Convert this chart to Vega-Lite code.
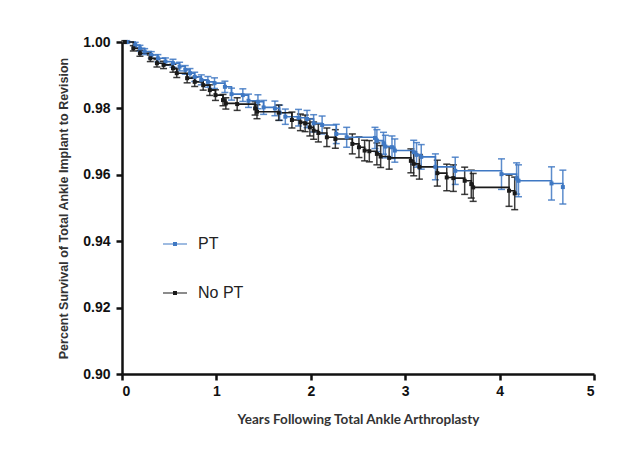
{
  "$schema": "https://vega.github.io/schema/vega-lite/v6.json",
  "autosize": {"type": "none"},
  "padding": {"left": 122, "top": 42, "right": 40, "bottom": 76},
  "width": 472,
  "height": 332,
  "background": "white",
  "config": {
    "view": {"stroke": null},
    "axis": {
      "grid": false,
      "domainColor": "#111",
      "domainWidth": 2.5,
      "tickColor": "#111",
      "tickWidth": 2.5,
      "tickSize": 6,
      "labelFont": "Liberation Sans",
      "labelFontWeight": "bold",
      "labelFontSize": 14,
      "labelColor": "#111",
      "titleFont": "Lato",
      "titleFontWeight": "bold",
      "titleFontSize": 13.5,
      "titleColor": "#333"
    }
  },
  "data": {
    "values": [
      {"g": "PT", "t": 0.05, "s": 1.0, "ci": 0.0004},
      {"g": "PT", "t": 0.14, "s": 0.9991, "ci": 0.0008},
      {"g": "PT", "t": 0.19, "s": 0.9981, "ci": 0.0009},
      {"g": "PT", "t": 0.24, "s": 0.9971, "ci": 0.0009},
      {"g": "PT", "t": 0.31, "s": 0.9961, "ci": 0.001},
      {"g": "PT", "t": 0.38, "s": 0.9951, "ci": 0.0011},
      {"g": "PT", "t": 0.46, "s": 0.9941, "ci": 0.0011},
      {"g": "PT", "t": 0.54, "s": 0.9936, "ci": 0.0012},
      {"g": "PT", "t": 0.61, "s": 0.9926, "ci": 0.0013},
      {"g": "PT", "t": 0.67, "s": 0.9916, "ci": 0.0013},
      {"g": "PT", "t": 0.72, "s": 0.9906, "ci": 0.0014},
      {"g": "PT", "t": 0.77, "s": 0.9895, "ci": 0.0014},
      {"g": "PT", "t": 0.84, "s": 0.9886, "ci": 0.0015},
      {"g": "PT", "t": 0.91, "s": 0.988, "ci": 0.0016},
      {"g": "PT", "t": 0.98, "s": 0.9876, "ci": 0.0016},
      {"g": "PT", "t": 1.09, "s": 0.9865, "ci": 0.0017},
      {"g": "PT", "t": 1.16, "s": 0.9843, "ci": 0.0018},
      {"g": "PT", "t": 1.28, "s": 0.984, "ci": 0.0019},
      {"g": "PT", "t": 1.34, "s": 0.9823, "ci": 0.002},
      {"g": "PT", "t": 1.44, "s": 0.982, "ci": 0.0021},
      {"g": "PT", "t": 1.5, "s": 0.9803, "ci": 0.0021},
      {"g": "PT", "t": 1.62, "s": 0.98, "ci": 0.0022},
      {"g": "PT", "t": 1.67, "s": 0.9787, "ci": 0.0023},
      {"g": "PT", "t": 1.73, "s": 0.9775, "ci": 0.0023},
      {"g": "PT", "t": 1.87, "s": 0.9772, "ci": 0.0025},
      {"g": "PT", "t": 1.96, "s": 0.9768, "ci": 0.0026},
      {"g": "PT", "t": 2.03, "s": 0.9755, "ci": 0.0026},
      {"g": "PT", "t": 2.12, "s": 0.975, "ci": 0.0027},
      {"g": "PT", "t": 2.27, "s": 0.9723, "ci": 0.0029},
      {"g": "PT", "t": 2.38, "s": 0.9713, "ci": 0.003},
      {"g": "PT", "t": 2.68, "s": 0.9711, "ci": 0.0032},
      {"g": "PT", "t": 2.7, "s": 0.9703, "ci": 0.0033},
      {"g": "PT", "t": 2.77, "s": 0.9695, "ci": 0.0033},
      {"g": "PT", "t": 2.79, "s": 0.9685, "ci": 0.0034},
      {"g": "PT", "t": 2.86, "s": 0.9683, "ci": 0.0034},
      {"g": "PT", "t": 2.89, "s": 0.9673, "ci": 0.0035},
      {"g": "PT", "t": 3.09, "s": 0.9668, "ci": 0.0036},
      {"g": "PT", "t": 3.12, "s": 0.966, "ci": 0.0037},
      {"g": "PT", "t": 3.17, "s": 0.9654, "ci": 0.0037},
      {"g": "PT", "t": 3.32, "s": 0.9624, "ci": 0.0039},
      {"g": "PT", "t": 3.53, "s": 0.9612, "ci": 0.0041},
      {"g": "PT", "t": 4.02, "s": 0.9602, "ci": 0.0046},
      {"g": "PT", "t": 4.18, "s": 0.9589, "ci": 0.0047},
      {"g": "PT", "t": 4.2, "s": 0.9582, "ci": 0.0048},
      {"g": "PT", "t": 4.55, "s": 0.9574, "ci": 0.005},
      {"g": "PT", "t": 4.67, "s": 0.9563, "ci": 0.0051},
      {"g": "No PT", "t": 0.03, "s": 1.0, "ci": 0.0004},
      {"g": "No PT", "t": 0.12, "s": 0.9981, "ci": 0.0008},
      {"g": "No PT", "t": 0.19, "s": 0.9966, "ci": 0.0009},
      {"g": "No PT", "t": 0.3, "s": 0.9951, "ci": 0.001},
      {"g": "No PT", "t": 0.37, "s": 0.9936, "ci": 0.0011},
      {"g": "No PT", "t": 0.44, "s": 0.9931, "ci": 0.0011},
      {"g": "No PT", "t": 0.54, "s": 0.9921, "ci": 0.0012},
      {"g": "No PT", "t": 0.58, "s": 0.9906, "ci": 0.0013},
      {"g": "No PT", "t": 0.69, "s": 0.9891, "ci": 0.0014},
      {"g": "No PT", "t": 0.77, "s": 0.988, "ci": 0.0014},
      {"g": "No PT", "t": 0.86, "s": 0.987, "ci": 0.0015},
      {"g": "No PT", "t": 0.93, "s": 0.9855, "ci": 0.0016},
      {"g": "No PT", "t": 0.99, "s": 0.984, "ci": 0.0016},
      {"g": "No PT", "t": 1.07, "s": 0.9825, "ci": 0.0017},
      {"g": "No PT", "t": 1.1, "s": 0.9815, "ci": 0.0017},
      {"g": "No PT", "t": 1.22, "s": 0.9813, "ci": 0.0019},
      {"g": "No PT", "t": 1.41, "s": 0.98, "ci": 0.002},
      {"g": "No PT", "t": 1.43, "s": 0.979, "ci": 0.0021},
      {"g": "No PT", "t": 1.66, "s": 0.9787, "ci": 0.0023},
      {"g": "No PT", "t": 1.8, "s": 0.9765, "ci": 0.0024},
      {"g": "No PT", "t": 1.89, "s": 0.9758, "ci": 0.0025},
      {"g": "No PT", "t": 1.94, "s": 0.9755, "ci": 0.0025},
      {"g": "No PT", "t": 1.99, "s": 0.9743, "ci": 0.0026},
      {"g": "No PT", "t": 2.03, "s": 0.9733, "ci": 0.0026},
      {"g": "No PT", "t": 2.08, "s": 0.9726, "ci": 0.0027},
      {"g": "No PT", "t": 2.17, "s": 0.9713, "ci": 0.0028},
      {"g": "No PT", "t": 2.26, "s": 0.9708, "ci": 0.0028},
      {"g": "No PT", "t": 2.44, "s": 0.9693, "ci": 0.003},
      {"g": "No PT", "t": 2.51, "s": 0.9683, "ci": 0.0031},
      {"g": "No PT", "t": 2.57, "s": 0.9673, "ci": 0.0031},
      {"g": "No PT", "t": 2.62, "s": 0.9671, "ci": 0.0032},
      {"g": "No PT", "t": 2.7, "s": 0.9663, "ci": 0.0033},
      {"g": "No PT", "t": 2.74, "s": 0.9655, "ci": 0.0033},
      {"g": "No PT", "t": 2.83, "s": 0.9651, "ci": 0.0034},
      {"g": "No PT", "t": 3.06, "s": 0.9642, "ci": 0.0036},
      {"g": "No PT", "t": 3.09, "s": 0.9633, "ci": 0.0036},
      {"g": "No PT", "t": 3.15, "s": 0.9624, "ci": 0.0037},
      {"g": "No PT", "t": 3.34, "s": 0.9605, "ci": 0.0039},
      {"g": "No PT", "t": 3.44, "s": 0.9592, "ci": 0.004},
      {"g": "No PT", "t": 3.51, "s": 0.959, "ci": 0.004},
      {"g": "No PT", "t": 3.63, "s": 0.9582, "ci": 0.0041},
      {"g": "No PT", "t": 3.7, "s": 0.9572, "ci": 0.0042},
      {"g": "No PT", "t": 3.72, "s": 0.9562, "ci": 0.0042},
      {"g": "No PT", "t": 4.1, "s": 0.9552, "ci": 0.0047},
      {"g": "No PT", "t": 4.16, "s": 0.9544, "ci": 0.0049}
    ]
  },
  "encoding": {
    "x": {
      "field": "t",
      "type": "quantitative",
      "scale": {"domain": [0, 5], "nice": false, "zero": false},
      "axis": {"title": "Years Following Total Ankle Arthroplasty", "values": [0, 1, 2, 3, 4, 5], "labelPadding": 4, "titlePadding": 14}
    },
    "y": {
      "field": "s",
      "type": "quantitative",
      "scale": {"domain": [0.9, 1.0], "nice": false, "zero": false},
      "axis": {"title": "Percent Survival of Total Ankle Implant to Revision", "values": [0.9, 0.92, 0.94, 0.96, 0.98, 1.0], "format": ".2f", "labelPadding": 6, "titlePadding": 12, "titleFont": "Liberation Sans", "titleFontSize": 12.5}
    },
    "color": {
      "field": "g",
      "type": "nominal",
      "scale": {"domain": ["PT", "No PT"], "range": ["#3f78c3", "#1a1a1a"]}
    }
  },
  "layer": [
    {
      "mark": {"type": "errorbar", "ticks": {"size": 7, "thickness": 1.5}, "thickness": 1.5, "opacity": 0.85},
      "encoding": {"yError": {"field": "ci"}}
    },
    {
      "mark": {"type": "line", "interpolate": "step-after", "strokeWidth": 1.6},
      "encoding": {
        "color": {
          "field": "g",
          "type": "nominal",
          "scale": {"domain": ["PT", "No PT"], "range": ["#3f78c3", "#1a1a1a"]},
          "legend": {
            "title": null,
            "orient": "none",
            "legendX": 40,
            "legendY": 189,
            "symbolType": "M-1,0H1M-0.12,-0.12H0.12V0.12H-0.12Z",
            "symbolSize": 576,
            "symbolStrokeWidth": 1.1,
            "labelFont": "Liberation Sans",
            "labelFontSize": 16,
            "labelColor": "#222",
            "labelOffset": 10,
            "rowPadding": 28,
            "encode": {"symbols": {"update": {"fill": {"scale": "color", "field": "value"}}}}
          }
        }
      }
    },
    {
      "mark": {"type": "point", "shape": "square", "filled": true, "size": 16, "opacity": 1},
      "encoding": {}
    }
  ]
}
